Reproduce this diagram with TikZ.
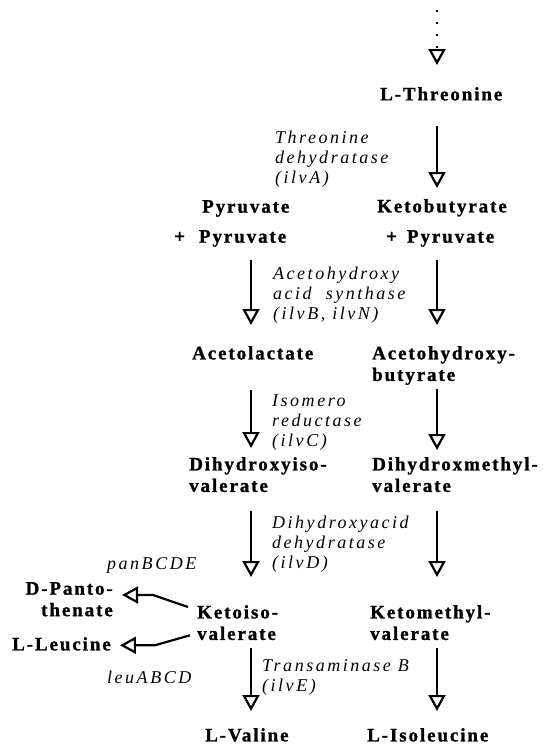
\documentclass[tikz,border=0pt]{standalone}
\usepackage{fontspec}
\setmainfont{Liberation Serif}
\newfontfamily\cmpdfont[LetterSpace=10, BoldFeatures={FakeBold=1.2}]{Liberation Serif}
\newfontfamily\enzfont[LetterSpace=14]{Liberation Serif}
\usetikzlibrary{arrows.meta}

\newcommand{\cmpd}{\cmpdfont\bfseries\fontsize{19}{21.5}\selectfont}
\newcommand{\enz}{\enzfont\itshape\fontsize{18}{20}\selectfont}

\begin{document}
\begin{tikzpicture}[x=1pt, y=-1pt]
            \tikzset{every node/.style={inner sep=0pt, anchor=north west, align=left, font=\cmpd},
                    enzyme/.style={font=\enz},
                    >={Triangle[open, length=16pt, width=17pt]},
                    every edge/.style={draw=black, line width=2.2pt}}
            \useasboundingbox (0,0) rectangle (548,747);
            \coordinate (L) at (251,0);
            \coordinate (R) at (437,0);
            \coordinate (top) at (437,10);
            % compounds
            \node (thr) at (380,87) {L-Threonine};
            \node (kb) at (377,199) {Ketobutyrate};
            \node (pyr) at (202,200) {Pyruvate};
            \node (pl) at (174,230) {+\hspace{14pt}Pyruvate};
            \node (pr) at (386,230) {+\hspace{10pt}Pyruvate};
            \node (al) at (192,346) {Acetolactate};
            \node (ahb) at (372,346) {Acetohydroxy-\\butyrate};
            \node (dhiv) at (189,457) {Dihydroxyiso-\\valerate};
            \node (dhmv) at (372,457) {Dihydroxmethyl-\\valerate};
            \node (kiv) at (197,605) {Ketoiso-\\valerate};
            \node (kmv) at (370,605) {Ketomethyl-\\valerate};
            \node[anchor=north east, align=right] (pan) at (113,582) {D-Panto-\\thenate};
            \node (leu) at (12,637) {L-Leucine};
            \node (val) at (205,728) {L-Valine};
            \node (ile) at (367,728) {L-Isoleucine};
            % enzymes
            \node[enzyme] (ilvA) at (275,131) {Threonine\\dehydratase\\(ilvA)};
            \node[enzyme] (ilvBN) at (273,267) {Acetohydroxy\\acid~~synthase\\(ilvB, ilvN)};
            \node[enzyme] (ilvC) at (272,395) {Isomero\\reductase\\(ilvC)};
            \node[enzyme] (ilvD) at (272,516) {Dihydroxyacid\\dehydratase\\(ilvD)};
            \node[enzyme] (ilvE) at (262,659) {Transaminase B\\(ilvE)};
            \node[enzyme] (panB) at (107,557) {panBCDE};
            \node[enzyme] (leuA) at (107,671) {leuABCD};
            % arrows
            \path [->, dash pattern=on 2.2pt off 9.8pt] (top) edge[shorten >=22pt] (thr.north -| R);
            \path [->] (thr.south -| R) edge[shorten <=25pt, shorten >=11pt] (kb.north -| R);
            \path [->] (pl.south -| L) edge[shorten <=13pt, shorten >=21pt] (al.north -| L);
            \path [->] (pr.south -| R) edge[shorten <=13pt, shorten >=21pt] (ahb.north -| R);
            \path [->] (al.south -| L) edge[shorten <=30pt, shorten >=9pt] (dhiv.north -| L);
            \path [->] (ahb.south -| R) edge[shorten <=4pt, shorten >=7pt] (dhmv.north -| R);
            \path [->] (dhiv.south -| L) edge[shorten <=19pt, shorten >=28pt] (kiv.north -| L);
            \path [->] (dhmv.south -| R) edge[shorten <=19pt, shorten >=28pt] (kmv.north -| R);
            \path [->] (kiv.south -| L) edge[shorten <=8pt, shorten >=17pt] (val.north -| L);
            \path [->] (kmv.south -| R) edge[shorten <=8pt, shorten >=17pt] (ile.north -| R);
            \draw [->, line width=2.2pt, shorten >=9pt] ([shift={(-9pt,-2pt)}]kiv.north west) -- ++(-35,-12) coordinate (pb) -- (pan.east |- pb);
            \draw [->, line width=2.2pt, shorten >=9pt] ([shift={(-7pt,5pt)}]kiv.south west) -- ++(-35,10) coordinate (lb) -- (leu.east |- lb);
        \end{tikzpicture}
\end{document}
